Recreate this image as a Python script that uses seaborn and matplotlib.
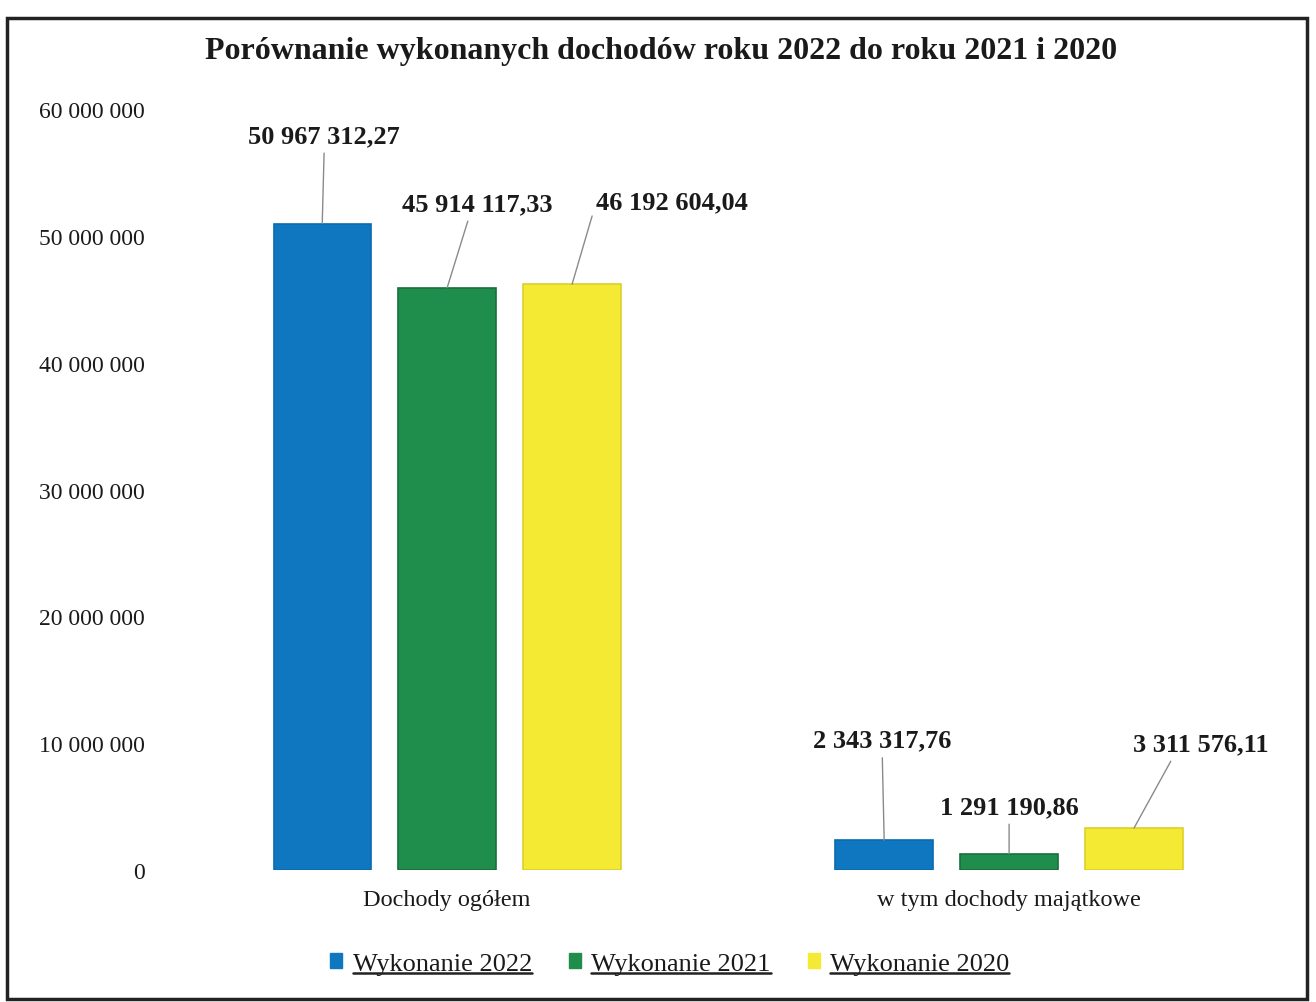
import matplotlib
matplotlib.use("Agg")
import matplotlib.pyplot as plt
import matplotlib.patches as mpatches
from matplotlib.lines import Line2D
from matplotlib.ticker import FuncFormatter
import pandas as pd
import seaborn as sns

categories = ["Dochody ogółem", "w tym dochody majątkowe"]
series = ["Wykonanie 2022", "Wykonanie 2021", "Wykonanie 2020"]
values_2022 = [50967312.27, 2343317.76]
values_2021 = [45914117.33, 1291190.86]
values_2020 = [46192604.04, 3311576.11]
colors = ["#0E77C0", "#1F8E4C", "#F4E933"]
edges = ["#0B6BAE", "#17703B", "#DDD02A"]

df = pd.DataFrame({
    "kategoria": categories * 3,
    "seria": [s for s in series for _ in categories],
    "wartosc": values_2022 + values_2021 + values_2020,
})

sns.set_style("white")
plt.rcParams["font.family"] = ["Liberation Serif", "DejaVu Serif"]

fig = plt.figure(figsize=(13.16, 10.03), dpi=100)
ax = fig.add_axes([0.1216, 0.1316, 0.8587, 0.7587])

sns.barplot(data=df, x="kategoria", y="wartosc", hue="seria", hue_order=series,
            palette=colors, saturation=1, width=0.667, gap=0.22, legend=False,
            ax=ax, edgecolor="none", linewidth=0)
for cont, ec in zip(ax.containers, edges):
    for b in cont:
        b.set_edgecolor(ec)
        b.set_linewidth(1.2)

ax.set_xlim(-0.511, 1.5)
ax.set_ylim(0, 60000000)
ax.set_yticks(range(0, 60000001, 10000000))
ax.yaxis.set_major_formatter(FuncFormatter(lambda v, p: f"{int(v):,}".replace(",", " ")))
ax.tick_params(axis="y", labelsize=17, length=0, pad=11, labelcolor="#1a1a1a")
ax.tick_params(axis="x", labelsize=17.5, length=0, pad=14, labelcolor="#1a1a1a")
ax.set_xlabel("")
ax.set_ylabel("")
sns.despine(ax=ax, left=True, bottom=True)
ax.grid(False)

# label offsets in pixels (dx, dy) from bar top centre, and line anchor on text
offsets = [
    [(2, 88, (0.5, 0.0)), (-2, 100, (0.5, 0.0))],
    [(30, 84, (0.45, 0.0)), (0, 47, (0.5, 0.0))],
    [(100, 82, (0.0, 0.5)), (67, 84, (0.3, 0.0))],
]
for i, cont in enumerate(ax.containers):
    for j, b in enumerate(cont):
        v = b.get_height()
        txt = f"{v:,.2f}".replace(",", " ").replace(".", ",")
        dx, dy, rp = offsets[i][j]
        ax.annotate(txt, xy=(b.get_x() + b.get_width() / 2, v),
                    xytext=(dx, dy), textcoords="offset pixels",
                    ha="center", va="center", fontsize=19, fontweight="bold",
                    color="#1a1a1a",
                    arrowprops=dict(arrowstyle="-", color="#8a8a8a", lw=1,
                                    relpos=rp, shrinkA=2, shrinkB=0))

fig.suptitle("Porównanie wykonanych dochodów roku 2022 do roku 2021 i 2020",
             x=0.502, y=0.963, fontsize=23, fontweight="bold", color="#1a1a1a")

handles = [mpatches.Patch(facecolor=c, edgecolor=c) for c in colors]
leg = fig.legend(handles, series, loc="center", bbox_to_anchor=(0.509, 0.038),
                 ncol=3, frameon=False, fontsize=19, handlelength=0.45,
                 handleheight=0.45, handletextpad=0.4, columnspacing=1.4)
for t in leg.get_texts():
    t.set_color("#1a1a1a")

# chart border
fig.patches.append(mpatches.Rectangle((0.005, 0.003), 0.988, 0.978, transform=fig.transFigure,
                                      fill=False, edgecolor="#222222", linewidth=2.5))

# underline legend labels
fig.canvas.draw()
r = fig.canvas.get_renderer()
for t in leg.get_texts():
    bb = t.get_window_extent(r).transformed(fig.transFigure.inverted())
    fig.add_artist(Line2D([bb.x0, bb.x1], [bb.y0 + 0.002, bb.y0 + 0.002],
                          transform=fig.transFigure, color="#222222", lw=1.8))

fig.savefig("out.png", dpi=100)
